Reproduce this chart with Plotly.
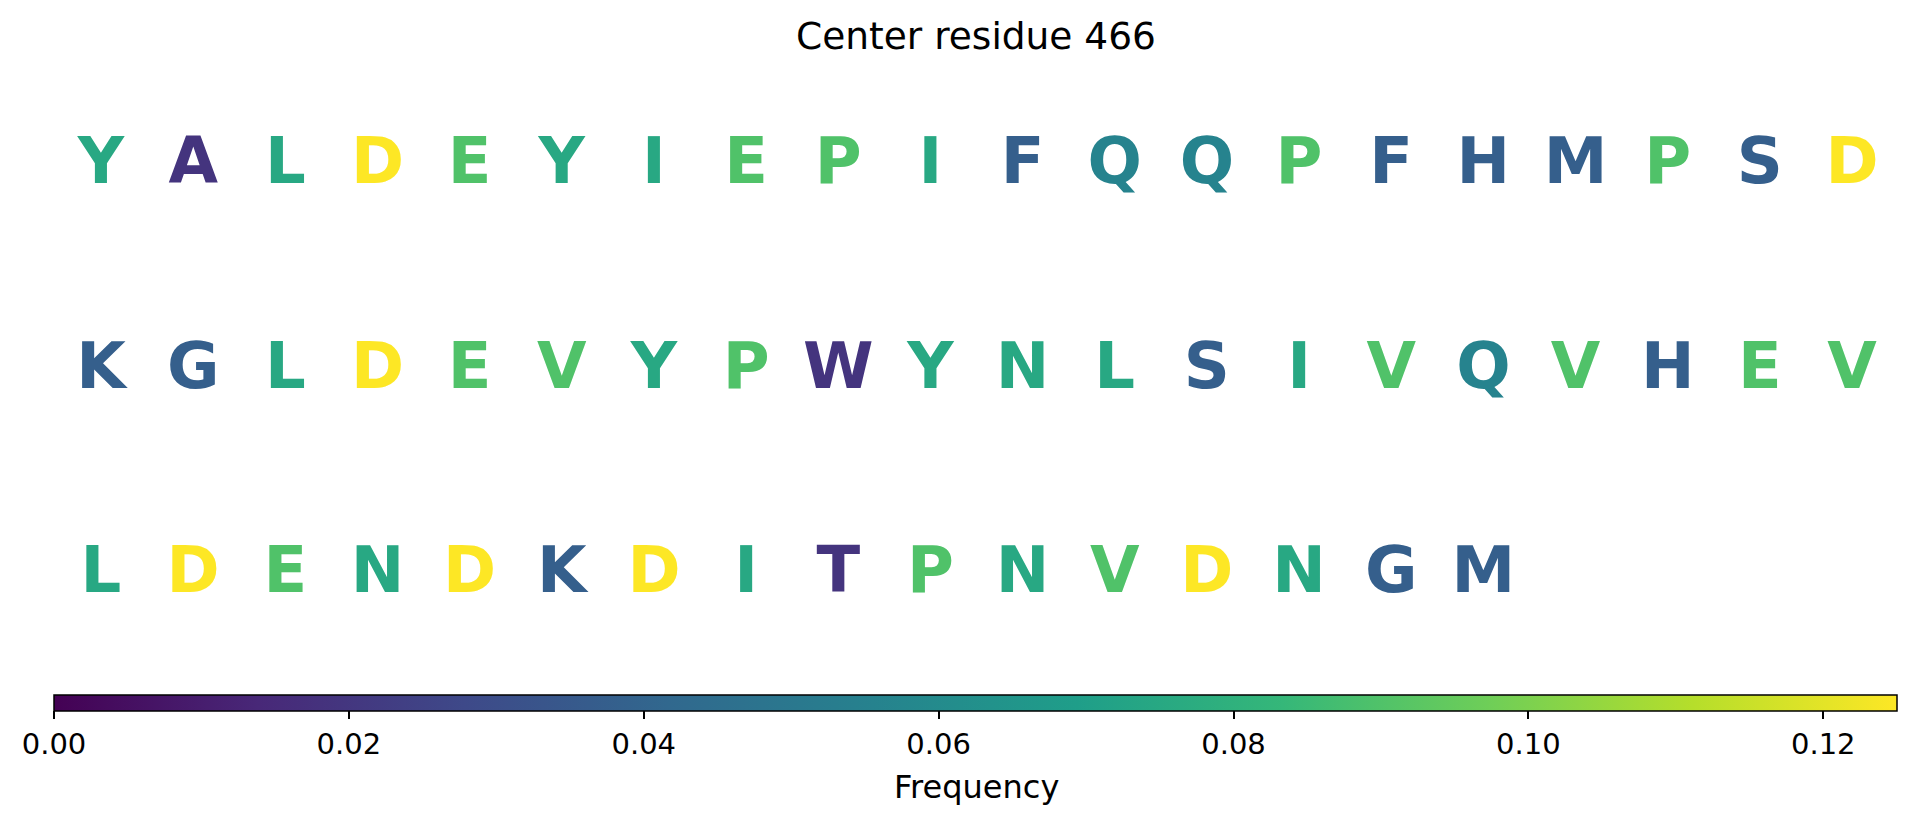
import plotly.graph_objects as go
from plotly.colors import sample_colorscale

# ---- data ----
row1 = list("YALDEYIEPIFQQPFHMPSD")
row2 = list("KGLDEVYPWYNLSIVQVHEV")
row3 = list("LDENDKDITPNVDNGM")
freq = {
    "D": 0.125, "P": 0.090, "E": 0.090, "V": 0.090,
    "Y": 0.075, "I": 0.075, "L": 0.075, "N": 0.075,
    "Q": 0.056,
    "F": 0.0375, "H": 0.0375, "M": 0.0375, "S": 0.0375, "K": 0.0375, "G": 0.0375,
    "A": 0.019, "W": 0.019, "T": 0.019,
}
cmin, cmax = 0.0, 0.125
tick_vals = [0.00, 0.02, 0.04, 0.06, 0.08, 0.10, 0.12]
title_text = "Center residue 466"
cbar_label = "Frequency"

# page has an 8px body margin; figure sized to fill the rest
OFF = 8
W, H = 1917 - 2 * OFF, 822 - 2 * OFF
rows = [row1, row2, row3]
xs, ys, letters, vals = [], [], [], []
for r, row in enumerate(rows):
    for c, aa in enumerate(row):
        xs.append(c)
        ys.append(r)
        letters.append(aa)
        vals.append(freq[aa])

colors = sample_colorscale("Viridis", [(v - cmin) / (cmax - cmin) for v in vals])

fig = go.Figure()
fig.add_trace(go.Scatter(
    x=xs, y=ys, mode="text", text=letters,
    textposition="middle center",
    textfont=dict(family="DejaVu Sans", size=64, color=colors, weight="bold"),
    hoverinfo="text", showlegend=False,
))
# colorbar carrier
cb_left, cb_right, cb_top = 54 - OFF, 1897 - OFF, 695 - OFF
fig.add_trace(go.Scatter(
    x=[xs[0], xs[0]], y=[ys[0], ys[0]], mode="markers",
    marker=dict(color=[cmin, cmax], cmin=cmin, cmax=cmax, colorscale="Viridis",
                opacity=0, size=1, showscale=True,
                colorbar=dict(
                    orientation="h", lenmode="pixels", len=cb_right - cb_left,
                    thicknessmode="pixels", thickness=16,
                    x=(cb_left + cb_right) / 2 / W, xanchor="center",
                    y=1 - cb_top / H, yanchor="top", xpad=0, ypad=0,
                    outlinecolor="black", outlinewidth=1.5,
                    tickvals=tick_vals, ticktext=[f"{v:.2f}" for v in tick_vals],
                    ticks="outside", ticklen=8, tickwidth=1.5, tickcolor="black",
                    tickfont=dict(family="DejaVu Sans", size=29, color="black"),
                )),
    hoverinfo="skip", showlegend=False,
))

# grid spacing in figure pixels
x0 = 101 - OFF
dx = (1852 - 101) / 19
y0 = 159
dy = 204.7
fig.update_layout(
    width=W, height=H,
    margin=dict(l=0, r=0, t=0, b=0, autoexpand=False),
    paper_bgcolor="white", plot_bgcolor="white",
    xaxis=dict(range=[-x0 / dx, (W - x0) / dx], visible=False, fixedrange=True),
    yaxis=dict(range=[(H - y0) / dy, -y0 / dy], visible=False, fixedrange=True),
    title=dict(text=title_text, x=(976 - OFF) / W, xanchor="center", xref="paper",
               y=1 - 28 / H, yref="container", yanchor="middle",
               font=dict(family="DejaVu Sans", size=37.5, color="black")),
    annotations=[dict(text=cbar_label, x=(976 - OFF) / W, y=1 - 779 / H, xref="paper", yref="paper",
                      xanchor="center", yanchor="middle", showarrow=False,
                      font=dict(family="DejaVu Sans", size=32, color="black"))],
)
fig.write_html("out.html")
